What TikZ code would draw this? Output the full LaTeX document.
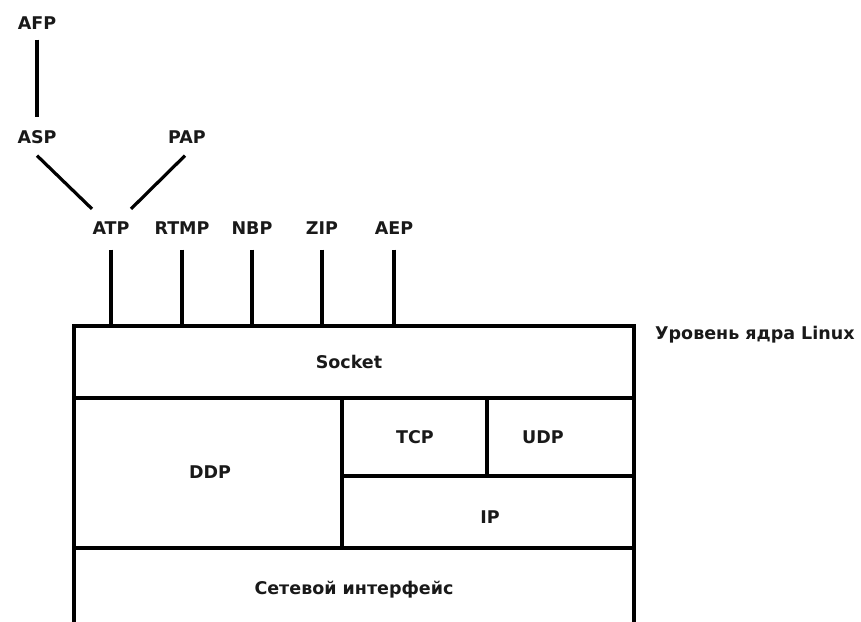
\documentclass[tikz,border=0pt]{standalone}
\usepackage{fontspec}
\setmainfont{DejaVu Sans}
\begin{document}
\begin{tikzpicture}[x=1pt,y=-1pt,
  lbl/.style={font=\bfseries\fontsize{17.5}{20}\selectfont, inner sep=0pt, text height=12.8pt, text depth=0pt, text=black!90},
  cell/.style={draw, line width=3.2pt, inner sep=0pt, minimum width=#1},
  wire/.style={line width=3.2pt}]
\useasboundingbox (0,0) rectangle (861,621);
% top protocol labels
\node[lbl] (afp) at (37,23) {AFP};
\node[lbl] (asp) at (37,137) {ASP};
\node[lbl] (pap) at (187,137) {PAP};
\node[lbl] (atp) at (111,228) {ATP};
\node[lbl] (rtmp) at (182,228) {RTMP};
\node[lbl] (nbp) at (252,228) {NBP};
\node[lbl] (zip) at (322,228) {ZIP};
\node[lbl] (aep) at (394,228) {AEP};
% cells
\node[cell=560pt, minimum height=72pt] (socket) at (354,362) {};
\node[cell=268pt, minimum height=150pt] (ddp) at (208,473) {};
\node[cell=145pt, minimum height=78pt] (tcp) at (414.5,437) {};
\node[cell=147pt, minimum height=78pt] (udp) at (560.5,437) {};
\node[cell=292pt, minimum height=72pt] (ip) at (488,512) {};
\node[cell=560pt, minimum height=80pt] (net) at (354,588) {};
% cell labels
\node[lbl] (socketl) at (349,362) {Socket};
\node[lbl] (ddpl) at (210,472) {DDP};
\node[lbl] (tcpl) at (415,437) {TCP};
\node[lbl] (udpl) at (543,437) {UDP};
\node[lbl] (ipl) at (490,517) {IP};
\node[lbl] (netl) at (354,588) {Сетевой интерфейс};
\node[lbl, anchor=west] (kern) at (655,333) {Уровень ядра Linux};
% connectors
\draw[wire] ([yshift=-10pt]afp.south) -- ([yshift=13pt]asp.north);
\draw[wire] ([yshift=-12pt]asp.south) -- ([xshift=-19pt,yshift=12.5pt]atp.north);
\draw[wire] ([xshift=-2pt,yshift=-12pt]pap.south) -- ([xshift=20pt,yshift=12.5pt]atp.north);
\foreach \n in {atp,rtmp,nbp,zip,aep}
  \draw[wire] ([yshift=-15pt]\n.south) -- (\n |- socket.north);
\end{tikzpicture}
\end{document}
